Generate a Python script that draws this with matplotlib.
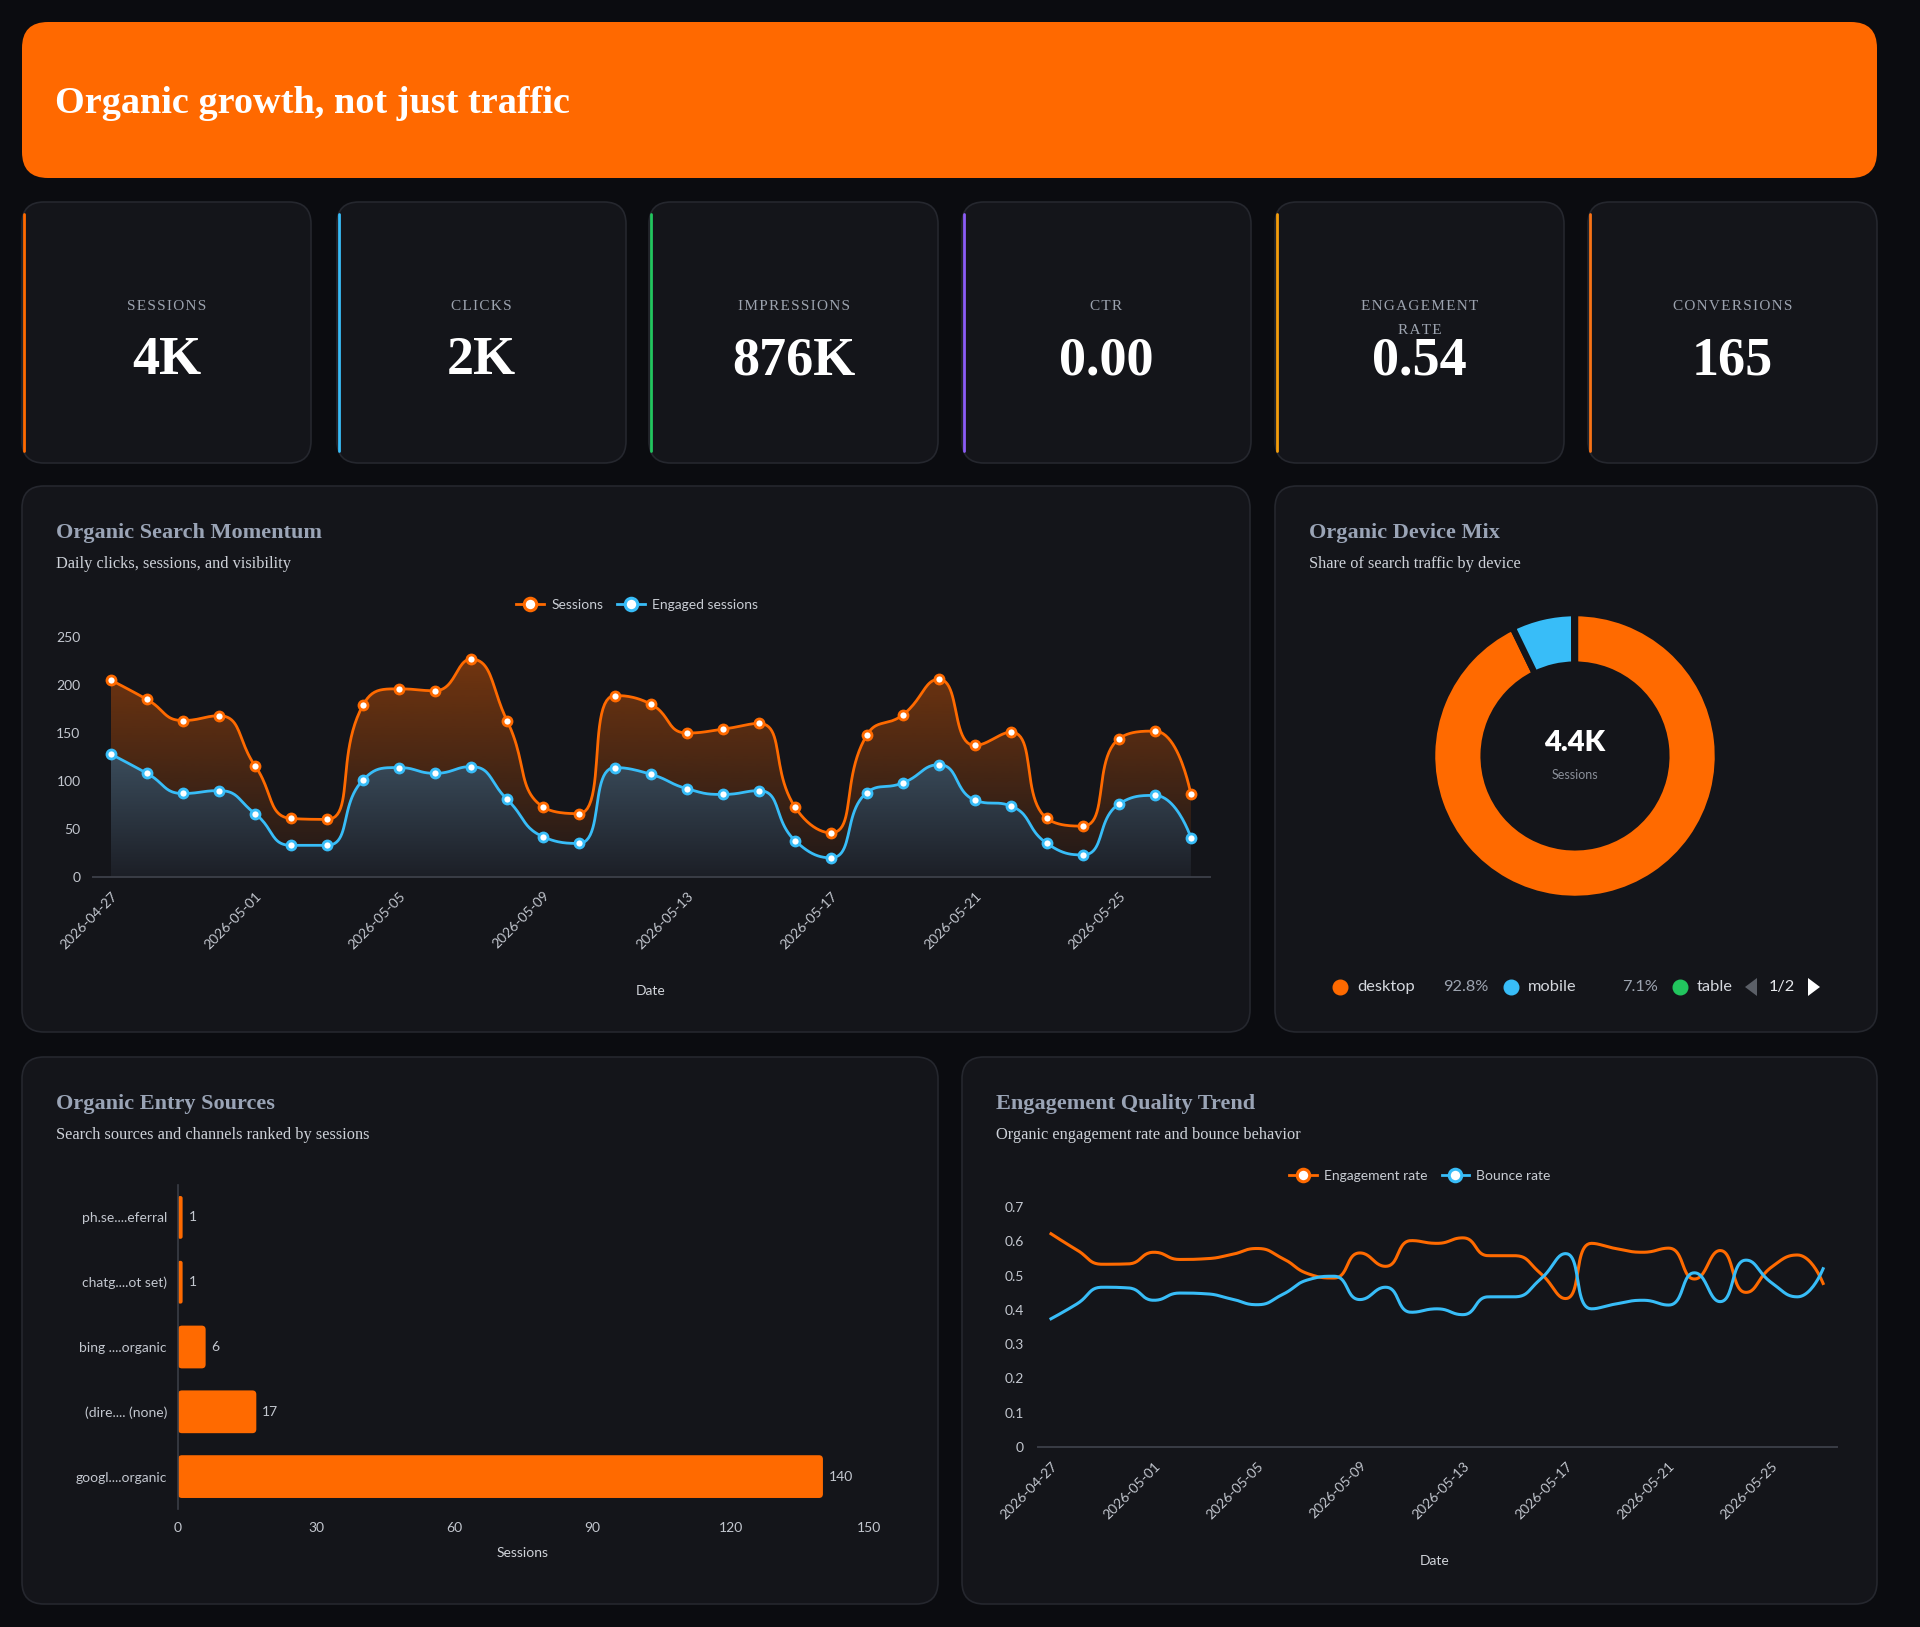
import numpy as np
import pandas as pd
import matplotlib
matplotlib.use("Agg")
import matplotlib.pyplot as plt
from matplotlib.patches import FancyBboxPatch, Polygon
from matplotlib.lines import Line2D

W, H = 1920, 1627

# ---------------- data ----------------
kpi_labels = ["SESSIONS", "CLICKS", "IMPRESSIONS", "CTR", "ENGAGEMENT RATE", "CONVERSIONS"]
kpi_values = ["4K", "2K", "876K", "0.00", "0.54", "165"]
kpi_accents = ["#ff6a00", "#38bdf8", "#22c55e", "#8b5cf6", "#f59e0b", "#f97316"]

dates = pd.date_range("2026-04-27", "2026-05-27").strftime("%Y-%m-%d").tolist()
sessions = [205, 185, 163, 168, 116, 61, 60, 179, 196, 194, 227, 163, 73, 66, 189, 180,
            150, 154, 160, 73, 46, 148, 169, 206, 137, 151, 61, 53, 144, 152, 86]
engaged = [128, 108, 87, 90, 66, 33, 33, 101, 114, 108, 115, 81, 42, 35, 114, 107,
           92, 86, 90, 38, 20, 88, 98, 117, 80, 74, 35, 23, 76, 85, 41]

device_names = ["desktop", "mobile", "table"]
device_share = [92.8, 7.1, 0.1]
device_colors = ["#ff6a00", "#38bdf8", "#22c55e"]
device_total = "4.4K"

source_labels = ["ph.se....eferral", "chatg....ot set)", "bing ....organic", "(dire.... (none)", "googl....organic"]
source_sessions = [1, 1, 6, 17, 140]

engagement_rate = [0.622, 0.575, 0.533, 0.534, 0.568, 0.547, 0.549, 0.561, 0.579, 0.550, 0.505,
                   0.493, 0.566, 0.527, 0.602, 0.594, 0.610, 0.558, 0.558, 0.508, 0.433, 0.594,
                   0.578, 0.568, 0.580, 0.490, 0.573, 0.451, 0.525, 0.560, 0.477]
bounce_rate = [0.374, 0.417, 0.466, 0.464, 0.428, 0.449, 0.447, 0.432, 0.415, 0.445, 0.488,
               0.498, 0.430, 0.466, 0.393, 0.403, 0.386, 0.438, 0.438, 0.488, 0.564, 0.403,
               0.418, 0.428, 0.414, 0.508, 0.424, 0.545, 0.479, 0.438, 0.520]

# ---------------- style ----------------
PAGE = "#0b0c10"
CARD = "#14151a"
EDGE = "#25272e"
ORANGE = "#ff6a00"
BLUE = "#38bdf8"
TICK = "#c3c7cf"
SERIF = ["Liberation Serif", "DejaVu Serif"]
SANS = ["Lato", "DejaVu Sans"]

plt.rcParams["font.family"] = SANS

fig = plt.figure(figsize=(W / 100, H / 100), dpi=100, facecolor=PAGE)
bg = fig.add_axes([0, 0, 1, 1])
bg.set_xlim(0, W)
bg.set_ylim(H, 0)
bg.axis("off")


def rbox(x0, y0, x1, y1, r, fc, ec="none", lw=0):
    bg.add_patch(FancyBboxPatch((x0, y0), x1 - x0, y1 - y0,
                                boxstyle=f"round,pad=0,rounding_size={r}",
                                fc=fc, ec=ec, lw=lw))


def px_axes(x0, y0, x1, y1):
    ax = fig.add_axes([x0 / W, 1 - y1 / H, (x1 - x0) / W, (y1 - y0) / H])
    ax.set_facecolor("none")
    return ax


def smooth(x, y, kx, ky, s=0.5, n=24):
    # bezier smoothing with clamped control points, worked out in pixel space
    P = np.column_stack([np.asarray(x, float) * kx, np.asarray(y, float) * ky])
    m = len(P)
    cp_out = [P[0]] * m
    cp_in = [P[-1]] * m
    for i in range(1, m - 1):
        prv, cur, nxt = P[i - 1], P[i], P[i + 1]
        d0 = np.hypot(*(cur - prv))
        d1 = np.hypot(*(nxt - cur))
        nc = cur + (nxt - prv) * s * d1 / (d0 + d1)
        nc = np.clip(nc, np.minimum(nxt, cur), np.maximum(nxt, cur))
        pc = cur - (nc - cur) * d0 / d1
        pc = np.clip(pc, np.minimum(prv, cur), np.maximum(prv, cur))
        nc = cur + (cur - pc) * d1 / d0
        cp_in[i] = pc
        cp_out[i] = nc
    t = np.linspace(0, 1, n, endpoint=False)[:, None]
    segs = []
    for i in range(m - 1):
        a, b, c, d = P[i], cp_out[i], cp_in[i + 1], P[i + 1]
        segs.append((1 - t) ** 3 * a + 3 * (1 - t) ** 2 * t * b + 3 * (1 - t) * t ** 2 * c + t ** 3 * d)
    segs.append(P[-1][None, :])
    out = np.vstack(segs)
    return out[:, 0] / kx, out[:, 1] / ky


def gradient_area(ax, xs, ys, top_rgba, bot_rgba, ytop, z):
    poly = ax.fill_between(xs, ys, 0, color="none", lw=0)
    path = poly.get_paths()[0]
    k = np.linspace(0, 1, 256)[:, None]
    img = (np.array(top_rgba) * (1 - k) + np.array(bot_rgba) * k)[:, None, :]
    im = ax.imshow(img, extent=[xs.min(), xs.max(), 0, ytop], aspect="auto",
                   origin="upper", zorder=z, interpolation="bilinear")
    im.set_clip_path(path, transform=ax.transData)


def style_axes(ax):
    for s in ["top", "right", "left"]:
        ax.spines[s].set_visible(False)
    ax.spines["bottom"].set_color("#3a3d46")
    ax.spines["bottom"].set_linewidth(1.4)
    ax.tick_params(length=0, colors=TICK, labelsize=10)


def legend_handles(colors):
    return [Line2D([0], [0], color=c, lw=2, marker="o", ms=9, mfc="white", mec=c, mew=2.2)
            for c in colors]


# ---------------- header ----------------
rbox(22, 22, 1877, 178, 26, "#ff6900")
bg.text(55, 103, "Organic growth, not just traffic", color="white", fontsize=27.5,
        fontweight="bold", family=SERIF, va="center", ha="left")

# ---------------- KPI cards ----------------
card_x = [22, 337, 649, 962, 1275, 1588]
card_w = 289
for i, (lab, val, acc) in enumerate(zip(kpi_labels, kpi_values, kpi_accents)):
    x0 = card_x[i]
    rbox(x0, 202, x0 + card_w, 463, 22, CARD, EDGE, 1.2)
    bg.plot([x0 + 1.8, x0 + 1.8], [214, 451], color=acc, lw=2.0, solid_capstyle="round")
    cx = x0 + card_w / 2
    words = lab.split(" ") if lab == "ENGAGEMENT RATE" else [lab]
    for j, w in enumerate(words):
        bg.text(cx, 306 + 24 * j, "\u200a".join(w), color="#9ca3af", fontsize=11,
                family=SERIF, ha="center", va="center")
    bg.text(cx, 361, val, color="white", fontsize=39, fontweight="bold",
            family=SERIF, ha="center", va="center")

# ---------------- panels ----------------
panels = [
    (22, 486, 1250, 1032, "Organic Search Momentum", "Daily clicks, sessions, and visibility"),
    (1275, 486, 1877, 1032, "Organic Device Mix", "Share of search traffic by device"),
    (22, 1057, 938, 1604, "Organic Entry Sources", "Search sources and channels ranked by sessions"),
    (962, 1057, 1877, 1604, "Engagement Quality Trend", "Organic engagement rate and bounce behavior"),
]
for x0, y0, x1, y1, title, sub in panels:
    rbox(x0, y0, x1, y1, 22, CARD, EDGE, 1.2)
    bg.text(x0 + 34, y0 + 47, title, color="#9aa4b6", fontsize=16, fontweight="bold",
            family=SERIF, va="center")
    bg.text(x0 + 34, y0 + 78, sub, color="#cdd1d8", fontsize=11.8, family=SERIF, va="center")

# ---------------- momentum chart ----------------
xi = np.arange(len(dates))
ax1 = px_axes(93, 637, 1210, 877)
sx, sy = smooth(xi, sessions, 36, 0.96)
ex, ey = smooth(xi, engaged, 36, 0.96)
gradient_area(ax1, sx, sy, (1.0, 0.40, 0.0, 0.40), (1.0, 0.40, 0.0, 0.04), max(sessions), 1)
gradient_area(ax1, ex, ey, (0.23, 0.30, 0.36, 1.0), (0.11, 0.12, 0.15, 1.0), max(engaged), 2)
ax1.plot(sx, sy, color=ORANGE, lw=2, zorder=3)
ax1.plot(ex, ey, color=BLUE, lw=2, zorder=3)
ax1.plot(xi, sessions, "o", ms=6.5, mfc="white", mec=ORANGE, mew=2, zorder=4, clip_on=False)
ax1.plot(xi, engaged, "o", ms=6.5, mfc="white", mec=BLUE, mew=2, zorder=4, clip_on=False)
ax1.set_xlim(-0.5, 30.53)
ax1.set_ylim(0, 250)
ax1.set_yticks(range(0, 251, 50))
ax1.set_xticks(xi[::4])
ax1.set_xticklabels(dates[::4], rotation=45, ha="right", va="top", rotation_mode="anchor")
style_axes(ax1)
ax1.tick_params(axis="y", pad=9)
ax1.tick_params(axis="x", pad=9)
ax1.legend(legend_handles([ORANGE, BLUE]), ["Sessions", "Engaged sessions"], loc="center",
           bbox_to_anchor=(637 / W, 1 - 605 / H), bbox_transform=fig.transFigure, ncol=2,
           frameon=False, labelcolor="#c9cdd4", fontsize=10, handlelength=2.0,
           columnspacing=1.0, handletextpad=0.5)
bg.text(651, 991, "Date", color="#d0d3d9", fontsize=10, ha="center", va="center")

# ---------------- device donut ----------------
axd = px_axes(1575 - 160, 756 - 160, 1575 + 160, 756 + 160)
axd.pie(device_share, colors=device_colors, radius=1, startangle=90, counterclock=False,
        wedgeprops=dict(width=0.36, edgecolor=CARD, linewidth=4.5))
axd.set_xlim(-1.12, 1.12)
axd.set_ylim(-1.12, 1.12)
axd.set_aspect("equal")
axd.axis("off")
bg.text(1575, 743, device_total, color="white", fontsize=21, fontweight="heavy",
        ha="center", va="center")
bg.text(1575, 775, "Sessions", color="#8a8f99", fontsize=9, ha="center", va="center")

dot_x = [1340, 1511, 1680]
pct_right = [1488, 1658, None]
for name, share, col, dx, pr in zip(device_names, device_share, device_colors, dot_x, pct_right):
    bg.plot(dx, 987, "o", ms=10.5, color=col)
    bg.text(dx + 17, 987, name, color="#d5d8de", fontsize=11.8, ha="left", va="center")
    if pr is not None:
        bg.text(pr, 987, f"{share}%", color="#9ca3af", fontsize=11.8, ha="right", va="center")
bg.add_patch(Polygon([(1757, 978), (1757, 996), (1745, 987)], closed=True, fc="#5b5f67", ec="none"))
bg.text(1782, 987, "1/2", color="#e5e7eb", fontsize=11.8, ha="center", va="center")
bg.add_patch(Polygon([(1808, 978), (1808, 996), (1820, 987)], closed=True, fc="white", ec="none"))

# ---------------- entry sources bar chart ----------------
ax3 = px_axes(178, 1185, 869, 1509)
yi = np.arange(len(source_labels))
ax3.set_xlim(0, 150)
ax3.set_ylim(len(source_labels) - 0.5, -0.5)
bar_h = 0.66
for y, v in zip(yi, source_sessions):
    rs = min(0.85, v * 0.45)
    ax3.add_patch(FancyBboxPatch((0, y - bar_h / 2), v, bar_h,
                                 boxstyle=f"round,pad=0,rounding_size={rs}",
                                 mutation_aspect=0.062 / 0.85, fc=ORANGE, ec="none"))
    ax3.text(v + 1.3, y, str(v), color=TICK, fontsize=10, ha="left", va="center")
ax3.set_yticks(yi)
ax3.set_yticklabels(source_labels)
ax3.set_xticks(range(0, 151, 30))
for s in ["top", "right", "bottom"]:
    ax3.spines[s].set_visible(False)
ax3.spines["left"].set_color("#3a3d46")
ax3.spines["left"].set_linewidth(1.2)
ax3.tick_params(length=0, colors=TICK, labelsize=10)
ax3.tick_params(axis="y", pad=8)
ax3.tick_params(axis="x", pad=9)
bg.text(523, 1553, "Sessions", color="#d0d3d9", fontsize=10, ha="center", va="center")

# ---------------- engagement trend ----------------
ax4 = px_axes(1038, 1207, 1837, 1447)
gx, gy = smooth(xi, engagement_rate, 25.73, 343)
bx, by = smooth(xi, bounce_rate, 25.73, 343)
ax4.plot(gx, gy, color=ORANGE, lw=2.2, zorder=3)
ax4.plot(bx, by, color=BLUE, lw=2.2, zorder=3)
ax4.set_xlim(-0.505, 30.54)
ax4.set_ylim(0, 0.7)
ax4.set_yticks(np.round(np.arange(0, 0.71, 0.1), 1))
ax4.set_yticklabels(["0", "0.1", "0.2", "0.3", "0.4", "0.5", "0.6", "0.7"])
ax4.set_xticks(xi[::4])
ax4.set_xticklabels(dates[::4], rotation=45, ha="right", va="top", rotation_mode="anchor")
style_axes(ax4)
ax4.tick_params(axis="y", pad=10)
ax4.tick_params(axis="x", pad=9)
ax4.legend(legend_handles([ORANGE, BLUE]), ["Engagement rate", "Bounce rate"], loc="center",
           bbox_to_anchor=(1420 / W, 1 - 1176 / H), bbox_transform=fig.transFigure, ncol=2,
           frameon=False, labelcolor="#c9cdd4", fontsize=10, handlelength=2.0,
           columnspacing=1.0, handletextpad=0.5)
bg.text(1435, 1561, "Date", color="#d0d3d9", fontsize=10, ha="center", va="center")

fig.savefig("out.png", dpi=100, facecolor=PAGE)
